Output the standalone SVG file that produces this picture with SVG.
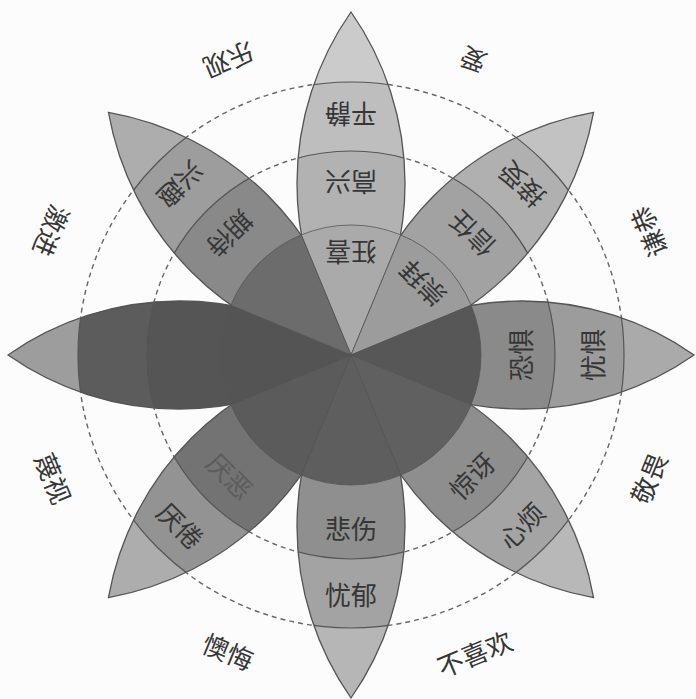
<svg xmlns="http://www.w3.org/2000/svg" xmlns:xlink="http://www.w3.org/1999/xlink" width="696" height="699" viewBox="0 0 696 699">
  <style>
    .band { stroke: #555; stroke-width: 1.2; }
    .outline { fill: none; stroke: #555; stroke-width: 1.3; }
    .hub { stroke: #555; stroke-width: 0.8; }
    .lbl { font-family: "Noto Sans CJK SC", "Noto Sans", sans-serif; font-size: 26px; fill: #363636; text-anchor: middle; dominant-baseline: central; }
    .outer { font-family: "Noto Sans CJK SC", "Noto Sans", sans-serif; font-size: 26px; fill: #363636; text-anchor: middle; dominant-baseline: central; }
    .guide { fill: none; stroke: #666; stroke-width: 1.4; stroke-dasharray: 5 4; }
  </style>
  <defs>
    <path id="petal" d="M0,0 A299.3,299.3 0 0 1 343,0 A299.3,299.3 0 0 1 0,0 Z"/>
    <clipPath id="petalClip" clipPathUnits="userSpaceOnUse">
      <use xlink:href="#petal"/>
    </clipPath>
    <path id="sector" d="M0,0 L120.1,-49.75 A130,130 0 0 1 120.1,49.75 Z"/>
  </defs>
  <rect width="696" height="699" fill="#fcfcfc"/>

  <g id="guides">
    <circle class="guide" cx="351" cy="355" r="204"/>
    <circle class="guide" cx="351" cy="355" r="273"/>
  </g>

  <g id="joy" transform="translate(351,355) rotate(-90)">
    <g clip-path="url(#petalClip)">
      <circle r="343" fill="#cbcbcb"/>
      <circle r="273" fill="#bebebe" class="band"/>
      <circle r="204" fill="#b2b2b2" class="band"/>
    </g>
    <use xlink:href="#petal" class="outline"/>
    <text class="lbl" transform="translate(240,0) rotate(-90)">平静</text>
    <text class="lbl" transform="translate(172,0) rotate(-90)">高兴</text>
  </g>

  <g id="trust" transform="translate(351,355) rotate(-45)">
    <g clip-path="url(#petalClip)">
      <circle r="343" fill="#c2c2c2"/>
      <circle r="273" fill="#b0b0b0" class="band"/>
      <circle r="204" fill="#a2a2a2" class="band"/>
    </g>
    <use xlink:href="#petal" class="outline"/>
    <text class="lbl" transform="translate(240,0) rotate(-90)">接受</text>
    <text class="lbl" transform="translate(170,0) rotate(-90)">信任</text>
  </g>

  <g id="fear" transform="translate(351,355) rotate(0)">
    <g clip-path="url(#petalClip)">
      <circle r="343" fill="#aaaaaa"/>
      <circle r="273" fill="#9c9c9c" class="band"/>
      <circle r="204" fill="#8a8a8a" class="band"/>
    </g>
    <use xlink:href="#petal" class="outline"/>
    <text class="lbl" transform="translate(240,0) rotate(-90)">忧惧</text>
    <text class="lbl" transform="translate(168,0) rotate(-90)">恐惧</text>
  </g>

  <g id="surprise" transform="translate(351,355) rotate(45)">
    <g clip-path="url(#petalClip)">
      <circle r="343" fill="#b8b8b8"/>
      <circle r="273" fill="#a4a4a4" class="band"/>
      <circle r="204" fill="#8e8e8e" class="band"/>
    </g>
    <use xlink:href="#petal" class="outline"/>
    <text class="lbl" transform="translate(240,0) rotate(-90)">心烦</text>
    <text class="lbl" transform="translate(170,0) rotate(-90)">惊讶</text>
  </g>

  <g id="sadness" transform="translate(351,355) rotate(90)">
    <g clip-path="url(#petalClip)">
      <circle r="343" fill="#b6b6b6"/>
      <circle r="273" fill="#a3a3a3" class="band"/>
      <circle r="204" fill="#8f8f8f" class="band"/>
    </g>
    <use xlink:href="#petal" class="outline"/>
    <text class="lbl" transform="translate(238,0) rotate(-90)">忧郁</text>
    <text class="lbl" transform="translate(172,0) rotate(-90)">悲伤</text>
  </g>

  <g id="disgust" transform="translate(351,355) rotate(135)">
    <g clip-path="url(#petalClip)">
      <circle r="343" fill="#adadad"/>
      <circle r="273" fill="#939393" class="band"/>
      <circle r="204" fill="#737373" class="band"/>
    </g>
    <use xlink:href="#petal" class="outline"/>
    <text class="lbl" transform="translate(240,0) rotate(-90)">厌倦</text>
    <text class="lbl" transform="translate(170,0) rotate(-90)" style="fill:#5c5c5c">厌恶</text>
  </g>

  <g id="anger" transform="translate(351,355) rotate(180)">
    <g clip-path="url(#petalClip)">
      <circle r="343" fill="#9d9d9d"/>
      <circle r="273" fill="#5c5c5c" class="band"/>
      <circle r="204" fill="#555555" class="band"/>
    </g>
    <use xlink:href="#petal" class="outline"/>
  </g>

  <g id="anticipation" transform="translate(351,355) rotate(-135)">
    <g clip-path="url(#petalClip)">
      <circle r="343" fill="#adadad"/>
      <circle r="273" fill="#9d9d9d" class="band"/>
      <circle r="204" fill="#898989" class="band"/>
    </g>
    <use xlink:href="#petal" class="outline"/>
    <text class="lbl" transform="translate(240,0) rotate(-90)">兴趣</text>
    <text class="lbl" transform="translate(170,0) rotate(-90)">期待</text>
  </g>

  <g id="hub" transform="translate(351,355)">
    <use id="hub-ecstasy" xlink:href="#sector" fill="#aaaaaa" class="hub" transform="rotate(-90)"/>
    <use id="hub-admiration" xlink:href="#sector" fill="#9c9c9c" class="hub" transform="rotate(-45)"/>
    <use id="hub-terror" xlink:href="#sector" fill="#575757" class="hub" transform="rotate(0)"/>
    <use id="hub-amazement" xlink:href="#sector" fill="#606060" class="hub" transform="rotate(45)"/>
    <use id="hub-grief" xlink:href="#sector" fill="#5e5e5e" class="hub" transform="rotate(90)"/>
    <use id="hub-loathing" xlink:href="#sector" fill="#5b5b5b" class="hub" transform="rotate(135)"/>
    <use id="hub-rage" xlink:href="#sector" fill="#545454" class="hub" transform="rotate(180)"/>
    <use id="hub-vigilance" xlink:href="#sector" fill="#6c6c6c" class="hub" transform="rotate(-135)"/>
    <text class="lbl" transform="rotate(-90) translate(102,0) rotate(-90)">狂喜</text>
    <text class="lbl" transform="rotate(-45) translate(100,0) rotate(-90)">崇拜</text>
  </g>

  <g id="dyads">
    <text id="optimism" class="outer" transform="translate(351,355) rotate(-112.5) translate(318,0) rotate(-90)">乐观</text>
    <text id="love" class="outer" transform="translate(351,355) rotate(-67.5) translate(318,0) rotate(-90)">爱</text>
    <text id="submission" class="outer" transform="translate(351,355) rotate(-22.5) translate(321,0) rotate(-90)">谦恭</text>
    <text id="awe" class="outer" transform="translate(351,355) rotate(22.5) translate(321,0) rotate(-90)">敬畏</text>
    <text id="disapproval" class="outer" transform="translate(351,355) rotate(67.5) translate(322,0) rotate(-90)">不喜欢</text>
    <text id="remorse" class="outer" transform="translate(351,355) rotate(112.5) translate(320,0) rotate(-90)">懊悔</text>
    <text id="contempt" class="outer" transform="translate(351,355) rotate(157.5) translate(321,0) rotate(-90)">蔑视</text>
    <text id="aggressiveness" class="outer" transform="translate(351,355) rotate(-157.5) translate(323,0) rotate(-90)">激进</text>
  </g>
</svg>
